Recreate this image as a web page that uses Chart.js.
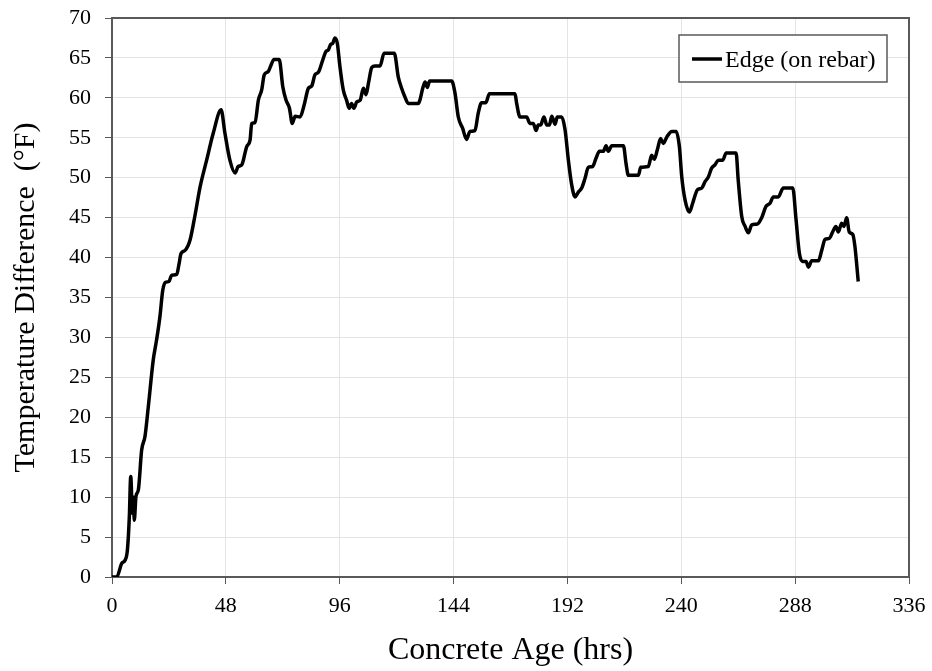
<!DOCTYPE html>
<html>
<head>
<meta charset="utf-8">
<title>Edge (on rebar) - Temperature Difference</title>
<script src="https://cdn.jsdelivr.net/npm/chart.js@4.4.1/dist/chart.umd.min.js"></script>
<style>
  html, body { margin: 0; padding: 0; background: #ffffff; }
  #wrap { width: 932px; height: 671px; position: relative; }
</style>
</head>
<body>
<div id="wrap"><canvas id="tempChart"></canvas></div>
<script>
// Series values
const seriesLabel = 'Edge (on rebar)';

const hours = [
  0, 2, 4.1, 5.5, 6.5, 7.3, 7.9, 8.6, 9.0, 9.4, 10.1, 11.1, 12.5, 13.9, 15.3, 17.4,
  18.8, 20.2, 21.4, 22.6, 24.0, 25.2, 27.3, 28.2, 29.1, 30.8, 32.9, 35.0, 37.1, 39.9,
  42.7, 46.0, 47.6, 49.7, 51.9, 53.2, 54.7, 56.8, 58.2, 58.9, 60.3, 61.7, 63.1, 64.2,
  65.9, 66.9, 68.3, 70.5, 72.0, 73.4, 74.8, 76.0, 77.2, 79.3, 81.0, 82.8, 84.2, 85.6,
  87.0, 88.8, 90.2, 91.2, 92.2, 93.0, 94.0, 95.0, 96.1, 97.5, 98.9, 100.0, 101.0, 102.0,
  103.2, 104.6, 106.0, 107.1, 108.1, 109.5, 110.9, 113.0, 114.7, 119.0, 120.7, 122.1,
  123.5, 124.9, 129.1, 131.2, 132.0, 132.9, 133.9, 143.2, 144.6, 146.0, 147.8, 149.5,
  150.9, 153.0, 154.4, 155.8, 157.6, 159.1, 169.9, 170.6, 172.0, 174.8, 176.2, 177.6,
  178.8, 179.7, 180.7, 182.1, 183.3, 184.4, 185.4, 186.8, 187.7, 189.6, 191.0, 192.4,
  193.8, 195.2, 196.6, 198.0, 199.4, 200.8, 202.6, 204.0, 205.5, 207.1, 208.3, 209.2,
  210.7, 215.6, 216.7, 217.7, 221.9, 222.9, 226.1, 227.5, 228.6, 229.9, 231.3, 232.4,
  233.9, 236.0, 237.8, 239.2, 240.2, 241.6, 243.4, 244.8, 246.8, 248.6, 250.0, 251.4,
  252.8, 254.2, 255.6, 257.5, 258.9, 263.1, 264.0, 265.5, 266.9, 268.3, 269.7, 272.1,
  273.9, 275.7, 277.4, 278.8, 280.9, 283.0, 287.0, 288.4, 289.8, 291.2, 292.6, 293.6,
  295.0, 297.8, 299.2, 300.6, 302.4, 303.8, 305.2, 306.2, 307.6, 308.6, 309.7, 310.8,
  312.3, 313.2, 314.6
];

const tempDiff = [
  0, 0, 1.7, 2.1, 3.4, 7.5, 12.6, 8.0, 10.0, 7.1, 10.1, 10.9, 15.9, 17.6, 21.3, 27.2,
  29.7, 32.6, 35.9, 36.9, 37.0, 37.8, 37.9, 39.1, 40.5, 40.9, 42.2, 45.3, 48.8, 52.2,
  55.6, 58.5, 55.6, 52.2, 50.6, 51.4, 51.6, 53.9, 54.7, 56.8, 56.9, 59.7, 61.0, 62.9,
  63.3, 64.0, 64.8, 64.8, 61.4, 59.7, 58.7, 56.8, 57.7, 57.6, 59.1, 61.2, 61.5, 62.9,
  63.2, 64.7, 65.8, 66.0, 66.7, 66.8, 67.5, 66.8, 63.9, 61.0, 59.7, 58.7, 59.3, 58.7,
  59.5, 59.7, 61.2, 60.4, 61.8, 63.8, 64.0, 64.0, 65.6, 65.6, 62.6, 61.2,
  60.1, 59.3, 59.3, 61.4, 62.0, 61.3, 62.1, 62.1, 60.6, 57.6, 56.2, 54.8,
  55.8, 55.9, 58.1, 59.4, 59.4, 60.5, 60.5, 59.3, 57.6, 57.6, 56.8, 56.8,
  55.9, 56.6, 56.6, 57.6, 56.6, 56.6, 57.7, 56.7, 57.6, 57.6, 56.0, 52.2,
  49.1, 47.6, 48.2, 48.7, 49.9, 51.3, 51.4, 52.4, 53.3, 53.3, 54.0, 53.3,
  54.0, 54.0, 51.8, 50.3, 50.3, 51.3, 51.4, 52.8, 52.3, 53.5, 54.9, 54.3,
  55.1, 55.8, 55.8, 53.9, 50.1, 47.2, 45.7, 46.8, 48.5, 48.7, 49.5, 50.1,
  51.2, 51.6, 52.2, 52.2, 53.1, 53.1, 49.7, 45.1, 43.9, 43.1, 44.1, 44.2,
  45.0, 46.4, 46.8, 47.6, 47.6, 48.7, 48.7, 44.7, 40.5, 39.5, 39.5, 38.8,
  39.6, 39.6, 40.9, 42.3, 42.4, 43.2, 43.9, 43.2, 44.3, 43.9, 45.0, 43.2,
  42.9, 41.4, 37.0
];

// Axis ranges and tick steps
const xTicks = [0, 48, 96, 144, 192, 240, 288, 336];
const yTicks = [0, 5, 10, 15, 20, 25, 30, 35, 40, 45, 50, 55, 60, 65, 70];

const AXIS_COLOR = '#595959';
const GRID_COLOR = '#e4e4e4';
const FONT = '"Liberation Serif", "Times New Roman", serif';

// Build {x, y} points for the linear x scale
function buildPoints() {
  return hours.map(function (h, i) {
    return { x: h, y: tempDiff[i] };
  });
}

// Draw the frame (top and right sides) plus a boxed legend inside the plot
const framePlugin = {
  id: 'frameAndLegend',
  afterDraw(chart) {
    const ctx = chart.ctx;
    const area = chart.chartArea;
    ctx.save();

    // top and right border of the plot
    ctx.strokeStyle = AXIS_COLOR;
    ctx.lineWidth = 2;
    ctx.beginPath();
    ctx.moveTo(area.left, area.top);
    ctx.lineTo(area.right, area.top);
    ctx.lineTo(area.right, area.bottom);
    ctx.stroke();

    // legend box
    const bx = 679, by = 35, bw = 208, bh = 47;
    ctx.fillStyle = '#ffffff';
    ctx.fillRect(bx, by, bw, bh);
    ctx.lineWidth = 1.5;
    ctx.strokeRect(bx, by, bw, bh);

    // legend line sample
    ctx.strokeStyle = '#000000';
    ctx.lineWidth = 3.5;
    ctx.beginPath();
    ctx.moveTo(bx + 13, by + 24);
    ctx.lineTo(bx + 43, by + 24);
    ctx.stroke();

    // legend text
    ctx.fillStyle = '#000000';
    ctx.font = '24px ' + FONT;
    ctx.textBaseline = 'alphabetic';
    ctx.textAlign = 'left';
    ctx.fillText(chart.data.datasets[0].label, bx + 46, by + 32);
    ctx.restore();
  }
};

function createChart() {
  const ctx = document.getElementById('tempChart');
  return new Chart(ctx, {
    type: 'line',
    data: {
      datasets: [{
        label: seriesLabel,
        data: buildPoints(),
        borderColor: '#000000',
        borderWidth: 3.5,
        pointRadius: 0,
        fill: false,
        cubicInterpolationMode: 'monotone'
      }]
    },
    options: {
      responsive: true,
      maintainAspectRatio: false,
      animation: false,
      layout: {
        padding: { top: 18, right: 23, left: 0, bottom: 0 }
      },
      plugins: {
        legend: { display: false },
        tooltip: { enabled: false }
      },
      scales: {
        x: {
          type: 'linear',
          min: xTicks[0],
          max: xTicks[xTicks.length - 1],
          afterBuildTicks: function (scale) {
            scale.ticks = xTicks.map(function (v) { return { value: v }; });
          },
          afterFit: function (scale) {
            scale.height = 94;
            scale.paddingLeft = 0;
            scale.paddingRight = 0;
          },
          grid: {
            color: GRID_COLOR,
            tickColor: AXIS_COLOR,
            tickLength: 7,
            lineWidth: 1
          },
          border: { color: AXIS_COLOR, width: 2 },
          ticks: {
            color: '#000000',
            font: { family: FONT, size: 22 },
            padding: 9,
            maxRotation: 0
          },
          title: {
            display: true,
            text: 'Concrete Age (hrs)',
            color: '#000000',
            font: { family: FONT, size: 32 },
            padding: { top: 0, bottom: 1 }
          }
        },
        y: {
          min: yTicks[0],
          max: yTicks[yTicks.length - 1],
          afterBuildTicks: function (scale) {
            scale.ticks = yTicks.map(function (v) { return { value: v }; });
          },
          afterFit: function (scale) {
            scale.width = 112;
            scale.paddingTop = 0;
            scale.paddingBottom = 0;
          },
          grid: {
            color: GRID_COLOR,
            tickColor: AXIS_COLOR,
            tickLength: 7,
            lineWidth: 1
          },
          border: { color: AXIS_COLOR, width: 2 },
          ticks: {
            color: '#000000',
            font: { family: FONT, size: 22 },
            padding: 14
          },
          title: {
            display: true,
            text: 'Temperature Difference  (°F)',
            color: '#000000',
            font: { family: FONT, size: 30 },
            padding: { top: 8, bottom: 0 }
          }
        }
      }
    },
    plugins: [framePlugin]
  });
}

document.addEventListener('DOMContentLoaded', function () {
  createChart();
});
</script>
</body>
</html>
